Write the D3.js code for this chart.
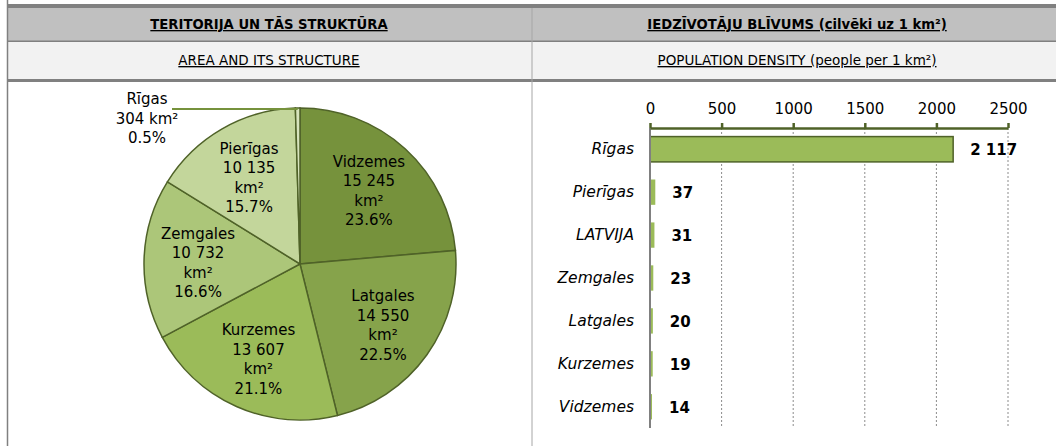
<!DOCTYPE html>
<html>
<head>
<meta charset="utf-8">
<script src="https://cdn.jsdelivr.net/npm/d3@7"></script>
<style>
  body { margin: 0; background: #fff; }
  svg { display: block; font-family: "DejaVu Sans", Verdana, sans-serif; }
</style>
</head>
<body>
<svg id="chart" width="1056" height="446"></svg>
<script>
// pie data (area, km2)
var regions = ['Vidzemes', 'Latgales', 'Kurzemes', 'Zemgales', 'Pierīgas', 'Rīgas'];
var areas = [15245, 14550, 13607, 10732, 10135, 304];
var shares = ['23.6%', '22.5%', '21.1%', '16.6%', '15.7%', '0.5%'];
var sliceColors = ['#76923c', '#86a34b', '#9bbb59', '#acc679', '#c3d69b', '#d7e4bd'];

// bar data (people per km2)
var densityNames = ['Rīgas', 'Pierīgas', 'LATVIJA', 'Zemgales', 'Latgales', 'Kurzemes', 'Vidzemes'];
var densityValues = [2117, 37, 31, 23, 20, 19, 14];
var densityTicks = [0, 500, 1000, 1500, 2000, 2500];

var svg = d3.select("#chart");
var W = 1056, H = 446;
var colX = 532;

// ---- table frame ----
svg.append("rect").attr("x", 7).attr("y", 8).attr("width", W - 7).attr("height", 33).attr("fill", "#c0c0c0");
svg.append("rect").attr("x", 7).attr("y", 42).attr("width", W - 7).attr("height", 37).attr("fill", "#f2f2f2");
svg.append("rect").attr("x", 7).attr("y", 4).attr("width", W - 7).attr("height", 4).attr("fill", "#808080");
svg.append("rect").attr("x", 7).attr("y", 40.5).attr("width", W - 7).attr("height", 1.5).attr("fill", "#808080");
svg.append("rect").attr("x", 7).attr("y", 79).attr("width", W - 7).attr("height", 3).attr("fill", "#808080");
svg.append("line").attr("x1", 7.5).attr("x2", 7.5).attr("y1", 0).attr("y2", H)
    .attr("stroke", "#808080").attr("stroke-width", 1.5);
svg.append("line").attr("x1", colX).attr("x2", colX).attr("y1", 8).attr("y2", H)
    .attr("stroke", "#a6a6a6").attr("stroke-width", 1);

var heads = [
  {x: 269, y: 29, t: "TERITORIJA UN TĀS STRUKTŪRA", b: true, s: 13.2},
  {x: 797, y: 29, t: "IEDZĪVOTĀJU BLĪVUMS (cilvēki uz 1 km²)", b: true, s: 13.2},
  {x: 269, y: 65, t: "AREA AND ITS STRUCTURE", b: false, s: 13.5},
  {x: 797, y: 65, t: "POPULATION DENSITY (people per 1 km²)", b: false, s: 13.5}
];
svg.selectAll("text.head").data(heads).enter().append("text")
    .attr("class", "head")
    .attr("x", d => d.x).attr("y", d => d.y)
    .attr("text-anchor", "middle")
    .attr("font-size", d => d.s)
    .attr("font-weight", d => d.b ? "bold" : "normal")
    .attr("text-decoration", "underline")
    .attr("fill", "#000")
    .text(d => d.t);

// ---- pie ----
var cx = 300, cy = 264, R = 156;
var pieData = regions.map((r, i) => ({name: r, value: areas[i], share: shares[i], color: sliceColors[i]}));
var pie = d3.pie().sort(null).value(d => d.value);
var arc = d3.arc().innerRadius(0).outerRadius(R);
var labelArc = d3.arc().innerRadius(102).outerRadius(102);
var fmt = d3.formatLocale({decimal: ".", thousands: " ", grouping: [3]}).format(",");

var pg = svg.append("g").attr("transform", "translate(" + cx + "," + cy + ")");
var arcs = pie(pieData);
pg.selectAll("path").data(arcs).enter().append("path")
    .attr("d", arc)
    .attr("fill", d => d.data.color)
    .attr("stroke", "#4f6228")
    .attr("stroke-width", 1.5);

var inside = arcs.filter(d => d.data.value > 1000);
var lbl = pg.selectAll("text.pl").data(inside).enter().append("text")
    .attr("class", "pl")
    .attr("text-anchor", "middle")
    .attr("font-size", 15)
    .attr("fill", "#000")
    .attr("transform", d => {
      var c = labelArc.centroid(d);
      return "translate(" + c[0] + "," + (c[1] - 27) + ")";
    });
lbl.each(function(d) {
  var t = d3.select(this);
  var lines = [d.data.name, fmt(d.data.value), "km²", d.data.share];
  lines.forEach((s, i) => {
    t.append("tspan").attr("x", 0).attr("y", i * 19.5 + 5).text(s);
  });
});

// Rīgas outside label with leader
var small = arcs.filter(d => d.data.value <= 1000)[0];
var topPt = d3.arc().innerRadius(R).outerRadius(R).centroid(small);
pg.append("polyline")
    .attr("points", [[topPt[0], topPt[1] + 1], [172 - cx, 109 - cy]].map(p => p.join(",")).join(" "))
    .attr("fill", "none").attr("stroke", "#76923c").attr("stroke-width", 2);
var rl = svg.append("text").attr("text-anchor", "middle").attr("font-size", 15).attr("fill", "#000");
[small.data.name, fmt(small.data.value) + " km²", small.data.share].forEach((s, i) => {
  rl.append("tspan").attr("x", 147).attr("y", 104 + i * 19.5).text(s);
});

// ---- bar chart ----
var x = d3.scaleLinear().domain([0, 2500]).range([650, 1008]);
var y = d3.scaleBand().domain(densityNames).range([128, 428]).paddingInner(0.41).paddingOuter(0.2);

var bg = svg.append("g");
bg.selectAll("line.grid").data(densityTicks.slice(1)).enter().append("line")
    .attr("class", "grid")
    .attr("x1", d => x(d)).attr("x2", d => x(d))
    .attr("y1", 128).attr("y2", 428)
    .attr("stroke", "#8c8c8c").attr("stroke-width", 1)
    .attr("stroke-dasharray", "2,2");

bg.selectAll("rect.bar").data(densityValues).enter().append("rect")
    .attr("class", "bar")
    .attr("x", x(0))
    .attr("y", (d, i) => y(densityNames[i]))
    .attr("width", d => x(d) - x(0))
    .attr("height", y.bandwidth())
    .attr("fill", "#9bbb59")
    .attr("stroke", d => d > 100 ? "#4f6228" : "none")
    .attr("stroke-width", 1.5);

bg.selectAll("text.val").data(densityValues).enter().append("text")
    .attr("class", "val")
    .attr("x", d => x(d) + 17)
    .attr("y", (d, i) => y(densityNames[i]) + y.bandwidth() / 2 + 6)
    .attr("font-size", 15).attr("font-weight", "bold").attr("fill", "#000")
    .text(d => fmt(d));

bg.selectAll("text.cat").data(densityNames).enter().append("text")
    .attr("class", "cat")
    .attr("x", 634)
    .attr("y", d => y(d) + y.bandwidth() / 2 + 5)
    .attr("text-anchor", "end")
    .attr("font-size", 15.5).attr("font-style", "italic").attr("fill", "#000")
    .text(d => d);

// left axis line
bg.append("line").attr("x1", x(0)).attr("x2", x(0)).attr("y1", 128).attr("y2", 428)
    .attr("stroke", "#808080").attr("stroke-width", 2);

// top axis
var axis = bg.append("g").attr("transform", "translate(0,128)")
    .call(d3.axisTop(x).tickValues(densityTicks).tickFormat(d3.format("d"))
      .tickSize(5).tickPadding(9).tickSizeOuter(0));
axis.select(".domain").attr("stroke", "#4f6228").attr("stroke-width", 2.5);
axis.selectAll(".tick line").attr("stroke", "#4f6228").attr("stroke-width", 2.5);
axis.selectAll(".tick text").attr("font-size", 15).attr("fill", "#000")
    .attr("font-family", "DejaVu Sans, Verdana, sans-serif");
</script>
</body>
</html>
